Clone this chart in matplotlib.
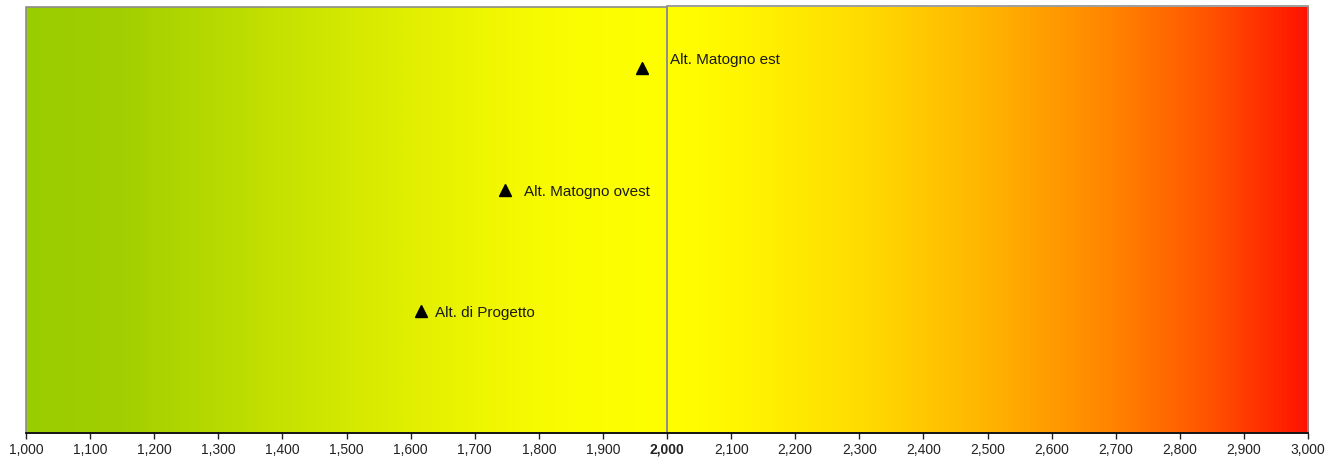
import numpy as np
import matplotlib.pyplot as plt
from matplotlib.colors import LinearSegmentedColormap
from matplotlib.patches import Rectangle
from matplotlib.ticker import FuncFormatter

plt.rcParams['font.family'] = ['Liberation Sans', 'DejaVu Sans']

# altitudes (m) of the three sites, stacked on a dummy y level
names = ['Alt. di Progetto', 'Alt. Matogno ovest', 'Alt. Matogno est']
altitudes = [1616, 1747, 1961]
levels = [1, 2, 3]

xmin, xmax, xmid = 1000, 3000, 2000
ticks = list(range(1000, 3001, 100))

# gradient stops: green -> yellow below the threshold, yellow -> red above
low_stops = [(0.0, '#9acd00'), (0.15, '#a2cf00'), (0.4, '#c6e200'),
             (0.6, '#e2ef00'), (0.8, '#f8fb00'), (1.0, '#ffff00')]
high_stops = [(0.0, '#ffff00'), (0.1, '#fff700'), (0.3, '#ffdc00'),
              (0.5, '#ffb400'), (0.7, '#ff8200'), (0.85, '#ff5200'),
              (1.0, '#ff1200')]

fig = plt.figure(figsize=(13.42, 4.66), dpi=100)
ax = fig.add_axes([0.0194, 0.0708, 0.9553, 0.9142])
ymax = 3.5

grad = np.linspace(0, 1, 512).reshape(1, -1)
cm_low = LinearSegmentedColormap.from_list('low', low_stops)
cm_high = LinearSegmentedColormap.from_list('high', high_stops)
ax.imshow(grad, cmap=cm_low, aspect='auto', extent=(xmin, xmid, 0, ymax),
          interpolation='bilinear', zorder=0)
ax.imshow(grad, cmap=cm_high, aspect='auto', extent=(xmid, xmax, 0, ymax),
          interpolation='bilinear', zorder=0)
ax.add_patch(Rectangle((xmin, 0), xmid - xmin, ymax, fill=False,
                       edgecolor='#8c8c8c', lw=1.2, zorder=1, clip_on=False))
ax.add_patch(Rectangle((xmid, 0), xmax - xmid, ymax + 0.01, fill=False,
                       edgecolor='#8c8c8c', lw=1.2, zorder=1, clip_on=False))

ax.plot(altitudes, levels, linestyle='none', marker='^', color='black',
        markersize=9, zorder=3)
offsets = [(10, -1.5), (14, -1.5), (20, 5.5)]
for name, x, y, off in zip(names, altitudes, levels, offsets):
    ax.annotate(name, (x, y), xytext=off, textcoords='offset points',
                ha='left', va='center', fontsize=11, color='#1a1a1a', zorder=4)

ax.set_xlim(xmin, xmax)
ax.set_ylim(0, ymax)
ax.set_xticks(ticks)
ax.xaxis.set_major_formatter(FuncFormatter(lambda v, p: f'{int(v):,}'))
ax.tick_params(axis='x', direction='out', length=4, width=1, labelsize=10,
               pad=3, colors='#222222')
for lab in ax.get_xticklabels():
    if lab.get_text() == '2,000':
        lab.set_fontweight('bold')
ax.set_yticks([])
for side in ['top', 'left', 'right']:
    ax.spines[side].set_visible(False)
ax.spines['bottom'].set_color('black')
ax.spines['bottom'].set_linewidth(1.2)
ax.spines['bottom'].set_zorder(5)

fig.savefig('out.png', dpi=100)
